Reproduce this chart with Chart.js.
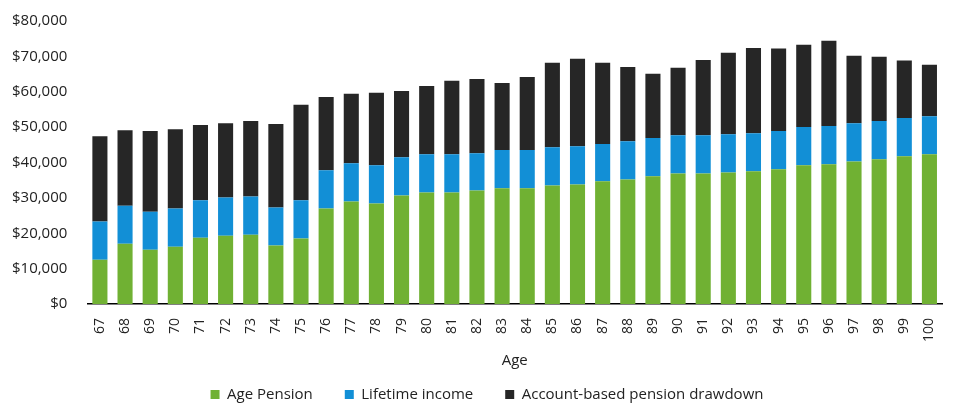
<!DOCTYPE html>
<html>
<head>
<meta charset="utf-8">
<script src="https://cdn.jsdelivr.net/npm/chart.js@4.4.1/dist/chart.umd.min.js"></script>
<style>
  html, body { margin: 0; padding: 0; background: #fff; }
  #wrap { width: 956px; height: 414px; }
</style>
</head>
<body>
<div id="wrap"><canvas id="barChart"></canvas></div>
<script>
// ages on the x axis
let ages = ['67','68','69','70','71','72','73','74','75','76','77','78','79','80','81','82','83',
  '84','85','86','87','88','89','90','91','92','93','94','95','96','97','98','99','100'];

// income by source, $ per year
let agePension = [12500,17000,15300,16200,18700,19300,19600,16500,18500,27000,29000,28400,30700,31500,31500,32100,32700,
  32700,33500,33800,34700,35200,36100,36900,36900,37200,37500,38100,39200,39500,40300,40900,41800,42300];
let lifetimeIncome = [10800,10800,10800,10800,10600,10800,10800,10800,10800,10800,10800,10800,10800,10800,10800,10500,10800,
  10800,10800,10800,10500,10800,10800,10800,10800,10800,10800,10800,10800,10800,10800,10800,10800,10800];
let drawdown = [24100,21300,22800,22400,21300,21000,21300,23600,27000,20700,19600,20500,18700,19300,20800,21000,19000,
  20700,23900,24700,23000,21000,18200,19100,21300,23000,24100,23300,23300,24100,19100,18200,16200,14500];

let ctx = document.getElementById('barChart').getContext('2d');
Chart.defaults.font.family = "'Open Sans', sans-serif";
Chart.defaults.font.size = 14;
Chart.defaults.color = '#222';

// wide gaps between legend items, but without the big padding above them
let legendGap = {
  id: 'legendGap',
  beforeUpdate: function(chart) {
    let lg = chart.legend;
    if (!lg || lg.gapPatched) return;
    lg.gapPatched = true;
    let fit = lg.fit, draw = lg.draw;
    lg.fit = function() { fit.call(this); this.height -= 14; };
    lg.draw = function() {
      this.top -= 16; this.left += 16; this.right += 16;
      draw.call(this);
      this.top += 16; this.left -= 16; this.right -= 16;
    };
  }
};

let incomeChart = new Chart(ctx, {
  type: 'bar',
  data: {
    labels: ages,
    datasets: [
      { label: 'Age Pension', data: agePension, backgroundColor: '#70b133' },
      { label: 'Lifetime income', data: lifetimeIncome, backgroundColor: '#128fd6' },
      { label: 'Account-based pension drawdown', data: drawdown, backgroundColor: '#262626' }
    ]
  },
  options: {
    responsive: true,
    maintainAspectRatio: false,
    animation: false,
    barPercentage: 0.6,
    categoryPercentage: 1.0,
    layout: { padding: { left: 0, right: 14, top: 13, bottom: 0 } },
    scales: {
      x: {
        stacked: true,
        grid: { display: false },
        border: { display: true, color: '#000', width: 1.5 },
        ticks: { minRotation: 90, maxRotation: 90, padding: 6, font: { size: 14 } },
        title: { display: true, text: 'Age', font: { size: 15 }, padding: { top: 4, bottom: 1 } }
      },
      y: {
        stacked: true,
        min: 0,
        max: 80000,
        grid: { display: false },
        border: { display: false },
        ticks: {
          stepSize: 10000,
          padding: 12,
          font: { size: 15 },
          callback: function(v) { return '$' + v.toLocaleString('en-US'); }
        }
      }
    },
    plugins: {
      legend: {
        display: true,
        position: 'bottom',
        labels: { boxWidth: 9, boxHeight: 9, padding: 32, font: { size: 15 } }
      },
      tooltip: { enabled: false }
    }
  },
  plugins: [legendGap]
});
</script>
</body>
</html>
